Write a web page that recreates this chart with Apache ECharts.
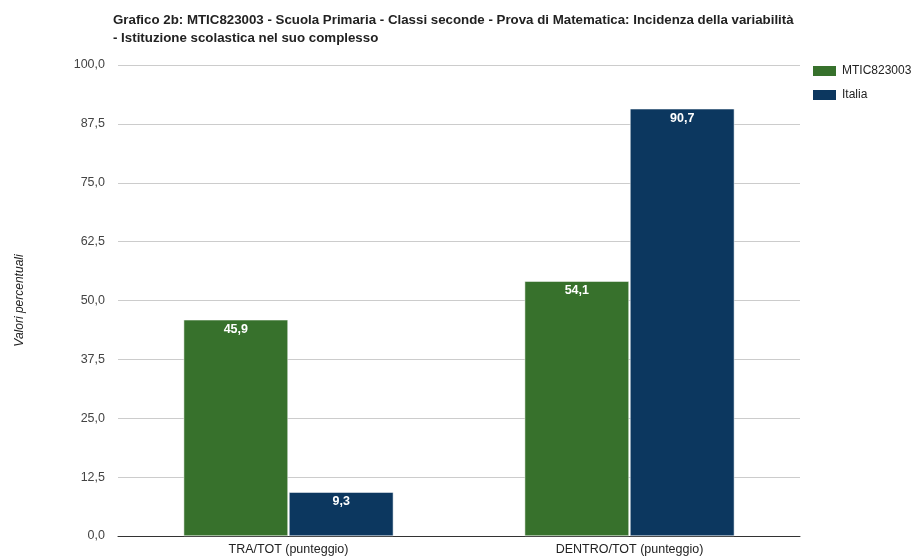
<!DOCTYPE html>
<html><head><meta charset="utf-8">
<script src="https://cdn.jsdelivr.net/npm/echarts@6/dist/echarts.min.js"></script>
<style>html,body{margin:0;padding:0;background:#fff}#c{width:917px;height:558px}</style>
</head><body><div id="c"></div>
<script>
const categories = ['TRA/TOT (punteggio)', 'DENTRO/TOT (punteggio)'];
const seriesNames = ['MTIC823003', 'Italia'];
const schoolValues = [45.9, 54.1];
const italiaValues = [9.3, 90.7];
const titleText = 'Grafico 2b: MTIC823003 - Scuola Primaria - Classi seconde - Prova di Matematica: Incidenza della variabilità\n- Istituzione scolastica nel suo complesso';
const fmt = v => v.toFixed(1).replace('.', ',');
const FF = 'Arial, Liberation Sans';
const chart = echarts.init(document.getElementById('c'));
const lbl = {show:true, position:'insideTop', distance:3, color:'#fff', fontWeight:'bold', fontSize:12.5, fontFamily:FF, formatter: p => fmt(p.value)};
chart.setOption({
  animation:false,
  title:{text:titleText, left:108, top:6, textStyle:{fontSize:13.3, fontWeight:'bold', color:'#222', fontFamily:FF, lineHeight:18}},
  legend:{orient:'vertical', left:806, top:59, itemWidth:25, itemHeight:12, itemGap:10, icon:'rect', textStyle:{fontSize:12, color:'#222', fontFamily:FF}, data:seriesNames},
  grid:{left:118, right:117, top:65, bottom:22},
  xAxis:{type:'category', data:categories, axisTick:{show:false}, axisLine:{lineStyle:{color:'#333'}}, axisLabel:{fontSize:12.5, color:'#222', margin:7, fontFamily:FF}},
  yAxis:{type:'value', min:0, max:100, interval:12.5, name:'Valori percentuali', nameLocation:'middle', nameGap:92, nameTextStyle:{fontStyle:'italic', fontSize:12, color:'#222', fontFamily:FF},
    axisLabel:{formatter:fmt, fontSize:12.5, color:'#444', margin:13, fontFamily:FF}, splitLine:{lineStyle:{color:'#ccc'}}, axisLine:{show:false}, axisTick:{show:false}},
  series:[
    {name:seriesNames[0], type:'bar', data:schoolValues, barGap:'1%', barCategoryGap:'38.5%', itemStyle:{color:'#37712c', borderColor:'#fff', borderWidth:0.5}, label:lbl},
    {name:seriesNames[1], type:'bar', data:italiaValues, itemStyle:{color:'#0c375f', borderColor:'#fff', borderWidth:0.5}, label:lbl}
  ]
});
</script></body></html>
